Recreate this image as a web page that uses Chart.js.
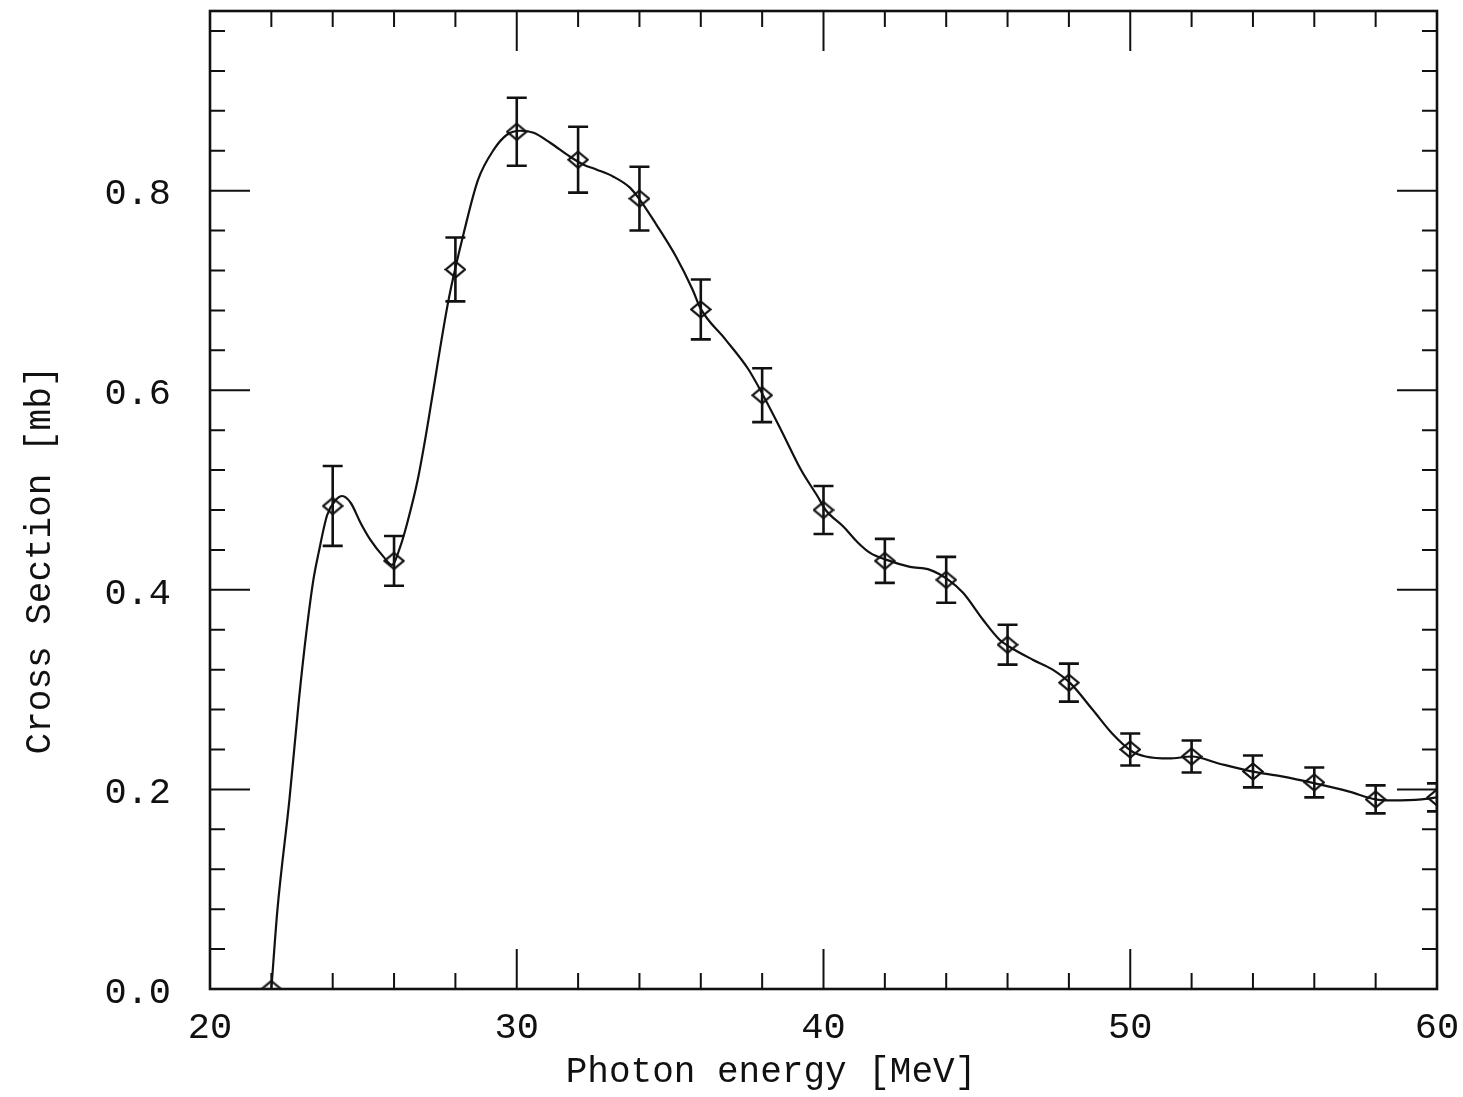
<!DOCTYPE html>
<html>
<head>
<meta charset="utf-8">
<script src="https://cdn.jsdelivr.net/npm/chart.js@4.4.1/dist/chart.umd.min.js"></script>
<style>
	html, body { margin: 0; padding: 0; background: #fff; }
</style>
</head>
<body>
<canvas id="chart"></canvas>
<script>
// measured cross section with errors
var energy = [22, 24, 26, 28, 30, 32, 34, 36, 38, 40, 42, 44, 46, 48, 50, 52, 54, 56, 58, 60];
var crossSection = [0.0, 0.484, 0.429, 0.721, 0.859, 0.831, 0.792, 0.681, 0.595, 0.480,
	0.429, 0.410, 0.345, 0.307, 0.240, 0.233, 0.218, 0.207, 0.190, 0.192];
var crossSectionErr = [0, 0.040, 0.025, 0.032, 0.034, 0.033, 0.032, 0.030, 0.027, 0.024,
	0.022, 0.023, 0.020, 0.019, 0.016, 0.016, 0.016, 0.015, 0.014, 0.014];

// smooth curve through the data
var curveEnergy = [22.0, 22.2, 22.59, 22.9, 23.14, 23.37, 23.54, 23.82, 24.1, 24.31, 24.59, 24.91,
	25.23, 25.66, 25.93, 26.2, 26.43, 26.77, 27.05, 27.2, 27.78, 28.3, 28.74, 29.25, 29.68, 30.12,
	30.55, 31.09, 31.74, 32.18, 32.61, 33.15, 33.69, 34.01, 34.55, 35.19, 35.73, 35.99, 36.8, 37.55,
	38.03, 38.62, 39.27, 39.8, 40.07, 40.66, 41.1, 41.52, 42.06, 42.82, 43.47, 44.07, 44.55, 45.2,
	45.74, 46.06, 46.82, 47.47, 48.06, 48.77, 49.41, 50.06, 50.5, 51.26, 52.01, 52.88, 53.96, 54.94,
	56.02, 57.11, 58.0, 58.55, 59.5, 60.0];
var curveValue = [0.0, 0.08, 0.19, 0.29, 0.357, 0.41, 0.437, 0.475, 0.49, 0.494, 0.487, 0.467,
	0.45, 0.433, 0.425, 0.443, 0.467, 0.51, 0.557, 0.585, 0.691, 0.761, 0.811, 0.841, 0.856, 0.86,
	0.858, 0.848, 0.834, 0.826, 0.821, 0.814, 0.803, 0.791, 0.766, 0.734, 0.701, 0.682, 0.651, 0.621,
	0.595, 0.56, 0.52, 0.494, 0.48, 0.463, 0.448, 0.437, 0.43, 0.423, 0.42, 0.41, 0.397, 0.37,
	0.35, 0.343, 0.33, 0.32, 0.306, 0.28, 0.256, 0.238, 0.233, 0.231, 0.233, 0.226, 0.218, 0.213,
	0.206, 0.198, 0.19, 0.189, 0.19, 0.192];

var xTickValues = [20, 30, 40, 50, 60];
var yTickValues = [0, 0.2, 0.4, 0.6, 0.8];
var xTitle = 'Photon energy [MeV]';
var yTitle = 'Cross Section [mb]';

var ink = '#111';
var fontFamily = '"Liberation Mono", "DejaVu Sans Mono", monospace';

// open diamond, a bit wider than tall
function makeDiamond() {
	var c = document.createElement('canvas');
	c.width = 22;
	c.height = 19;
	var g = c.getContext('2d');
	g.strokeStyle = ink;
	g.lineWidth = 2.2;
	g.beginPath();
	g.moveTo(11, 1.5);
	g.lineTo(20.5, 9.5);
	g.lineTo(11, 17.5);
	g.lineTo(1.5, 9.5);
	g.closePath();
	g.stroke();
	return c;
}

var errorBarPlugin = {
	id: 'errorBars',
	afterDatasetsDraw: function (chart) {
		var ctx = chart.ctx;
		var a = chart.chartArea;
		var xs = chart.scales.x;
		var ys = chart.scales.y;
		ctx.save();
		ctx.beginPath();
		ctx.rect(a.left, a.top, a.right - a.left, a.bottom - a.top);
		ctx.clip();
		ctx.strokeStyle = ink;
		ctx.lineWidth = 2.6;
		ctx.beginPath();
		for (var i = 0; i < energy.length; i++) {
			if (!crossSectionErr[i]) continue;
			var px = xs.getPixelForValue(energy[i]);
			var hi = ys.getPixelForValue(crossSection[i] + crossSectionErr[i]);
			var lo = ys.getPixelForValue(crossSection[i] - crossSectionErr[i]);
			ctx.moveTo(px, hi);
			ctx.lineTo(px, lo);
			ctx.moveTo(px - 10, hi);
			ctx.lineTo(px + 10, hi);
			ctx.moveTo(px - 10, lo);
			ctx.lineTo(px + 10, lo);
		}
		ctx.stroke();
		ctx.restore();
	}
};

// box with inward ticks on all four sides, plus axis titles
var framePlugin = {
	id: 'frame',
	afterDraw: function (chart) {
		var ctx = chart.ctx;
		var a = chart.chartArea;
		var xs = chart.scales.x;
		var ys = chart.scales.y;
		var v, px, py, len;
		ctx.save();
		ctx.strokeStyle = ink;
		ctx.lineWidth = 2.6;
		ctx.strokeRect(a.left, a.top, a.right - a.left, a.bottom - a.top);

		ctx.lineWidth = 2;
		ctx.beginPath();
		for (v = 20; v <= 60; v += 2) {
			px = xs.getPixelForValue(v);
			len = v % 10 === 0 ? 40 : 16;
			ctx.moveTo(px, a.bottom);
			ctx.lineTo(px, a.bottom - len);
			ctx.moveTo(px, a.top);
			ctx.lineTo(px, a.top + len);
		}
		for (var i = 0; i <= 24; i++) {
			py = ys.getPixelForValue(i * 0.04);
			len = i % 5 === 0 ? 40 : 15;
			ctx.moveTo(a.left, py);
			ctx.lineTo(a.left + len, py);
			ctx.moveTo(a.right, py);
			ctx.lineTo(a.right - len, py);
		}
		ctx.stroke();

		ctx.fillStyle = ink;
		ctx.font = '36px ' + fontFamily;
		ctx.textAlign = 'center';
		ctx.textBaseline = 'alphabetic';
		ctx.fillText(xTitle, 771, 1082);

		ctx.translate(50, 560);
		ctx.rotate(-Math.PI / 2);
		ctx.fillText(yTitle, 0, 0);
		ctx.restore();
	}
};

// no extra room around the plot for overhanging tick labels
function noPadding(scale) {
	scale.paddingTop = 0;
	scale.paddingBottom = 0;
	scale.paddingLeft = 0;
	scale.paddingRight = 0;
}

var canvas = document.getElementById('chart');
canvas.width = 1463;
canvas.height = 1097;

var points = energy.map(function (e, i) { return { x: e, y: crossSection[i] }; });
var curve = curveEnergy.map(function (e, i) { return { x: e, y: curveValue[i] }; });

var chart = new Chart(canvas.getContext('2d'), {
	type: 'scatter',
	data: {
		datasets: [{
			label: 'fit',
			data: curve,
			showLine: true,
			borderColor: ink,
			borderWidth: 2.2,
			pointRadius: 0,
			cubicInterpolationMode: 'monotone',
			clip: 0
		}, {
			label: 'data',
			data: points,
			showLine: false,
			pointStyle: makeDiamond(),
			pointRadius: 9,
			clip: 0
		}]
	},
	options: {
		responsive: false,
		animation: false,
		layout: { padding: { top: 11, right: 26, left: 0, bottom: 0 } },
		plugins: {
			legend: { display: false },
			tooltip: { enabled: false }
		},
		scales: {
			x: {
				type: 'linear',
				min: 20,
				max: 60,
				grid: { display: false, drawTicks: false },
				border: { display: false },
				afterBuildTicks: function (scale) {
					scale.ticks = xTickValues.map(function (v) { return { value: v }; });
				},
				afterFit: function (scale) {
					scale.height = 108;
					noPadding(scale);
				},
				ticks: {
					color: ink,
					font: { family: fontFamily, size: 37 },
					padding: 17,
					maxRotation: 0,
					autoSkip: false,
					callback: function (v) { return String(v); }
				}
			},
			y: {
				type: 'linear',
				min: 0,
				max: 0.98,
				grid: { display: false, drawTicks: false },
				border: { display: false },
				afterBuildTicks: function (scale) {
					scale.ticks = yTickValues.map(function (v) { return { value: v }; });
				},
				afterFit: function (scale) {
					scale.width = 210;
					noPadding(scale);
				},
				ticks: {
					color: ink,
					font: { family: fontFamily, size: 37 },
					padding: 39,
					labelOffset: 4,
					autoSkip: false,
					callback: function (v) { return v.toFixed(1); }
				}
			}
		}
	},
	plugins: [errorBarPlugin, framePlugin]
});
</script>
</body>
</html>
